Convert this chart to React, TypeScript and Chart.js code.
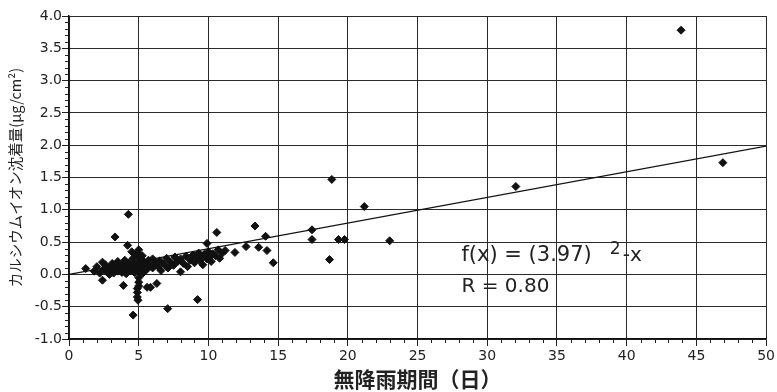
import React, { useEffect, useRef } from 'react';
import { Chart, registerables } from 'chart.js';

Chart.register(...registerables);

// ---- data ----
const pointX = [
  1.2, 1.8, 2.0, 2.2, 2.4, 2.4, 2.5, 2.6, 2.7, 2.8, 2.9, 3.0, 3.0, 3.1, 3.2, 3.3, 3.3, 3.4, 3.5, 3.5,
  3.6, 3.7, 3.8, 3.9, 3.9, 4.0, 4.0, 4.1, 4.2, 4.2, 4.26, 4.3, 4.4, 4.5, 4.5, 4.6, 4.6, 4.7, 4.7, 4.8,
  4.8, 4.9, 4.9, 4.9, 4.95, 4.9, 5.0, 5.0, 5.0, 5.0, 5.0, 5.0, 5.0, 5.1, 5.1, 5.2, 5.25, 5.3, 5.3, 5.4,
  5.5, 5.6, 5.6, 5.7, 5.8, 5.85, 6.0, 6.0, 6.2, 6.3, 6.4, 6.5, 6.6, 6.8, 7.0, 7.08, 7.1, 7.3, 7.5, 7.6,
  7.8, 8.0, 8.0, 8.2, 8.4, 8.5, 8.7, 8.9, 9.0, 9.1, 9.22, 9.3, 9.4, 9.5, 9.6, 9.7, 9.9, 9.9, 10.0, 10.1,
  10.2, 10.3, 10.5, 10.6, 10.7, 10.8, 11.0, 11.2, 11.9, 12.7, 13.34, 13.6, 14.1, 14.2, 14.65, 17.43, 17.43, 18.69, 18.85, 19.33,
  19.76, 21.18, 23.0, 32.05, 43.9, 46.9,
];
const pointY = [
  0.09, 0.05, 0.12, 0.02, 0.19, -0.09, 0.08, 0.15, 0.04, 0.10, 0.00, 0.13, 0.06, 0.17, 0.02, 0.58, 0.10, 0.14, 0.05, 0.20,
  0.08, 0.12, 0.03, -0.17, 0.16, 0.09, 0.22, 0.01, 0.45, 0.13, 0.93, 0.18, 0.06, 0.35, 0.11, -0.63, 0.25, 0.03, 0.16, 0.09,
  0.30, -0.22, -0.28, -0.35, -0.40, 0.13, 0.05, 0.20, -0.05, 0.38, 0.32, -0.12, -0.18, 0.27, 0.10, 0.15, 0.29, 0.02, 0.21, 0.12,
  0.18, -0.20, 0.08, 0.22, 0.14, -0.20, 0.10, 0.24, 0.18, -0.14, 0.12, 0.21, 0.06, 0.16, 0.25, -0.53, 0.10, 0.19, 0.14, 0.27,
  0.20, 0.04, 0.24, 0.17, 0.28, 0.12, 0.22, 0.30, 0.18, 0.25, -0.39, 0.33, 0.21, 0.28, 0.15, 0.31, 0.48, 0.24, 0.35, 0.27,
  0.20, 0.32, 0.29, 0.65, 0.38, 0.25, 0.33, 0.37, 0.34, 0.43, 0.75, 0.42, 0.59, 0.37, 0.18, 0.69, 0.54, 0.23, 1.47, 0.54,
  0.54, 1.05, 0.52, 1.36, 3.78, 1.73,
];
const trendX = [0, 50];
const trendY = [0, 1.985];

const xTitle = '無降雨期間（日）';
const yTitle = 'カルシウムイオン沈着量(μg/cm²)';
const formulaMain = 'f(x) = (3.97)';
const formulaSup = '2';
const formulaTail = '-x';
const rText = 'R = 0.80';

const FONT = '"DejaVu Sans", sans-serif';

const extrasPlugin = {
  id: 'extras',
  afterDraw(chart: any) {
    const { ctx, chartArea } = chart;
    const xs = chart.scales.x;
    const ys = chart.scales.y;
    ctx.save();
    ctx.strokeStyle = '#222';
    ctx.lineWidth = 1;
    // minor ticks on x axis
    for (let v = 0; v <= 50; v += 1) {
      if (v % 5 === 0) continue;
      const px = Math.round(xs.getPixelForValue(v)) + 0.5;
      ctx.beginPath();
      ctx.moveTo(px, chartArea.bottom);
      ctx.lineTo(px, chartArea.bottom + 4);
      ctx.stroke();
    }
    // minor ticks on y axis
    for (let i = -10; i <= 40; i += 1) {
      if (i % 5 === 0) continue;
      const py = Math.round(ys.getPixelForValue(i / 10)) + 0.5;
      ctx.beginPath();
      ctx.moveTo(chartArea.left - 4, py);
      ctx.lineTo(chartArea.left, py);
      ctx.stroke();
    }
    // formula text
    ctx.fillStyle = '#222';
    ctx.textBaseline = 'alphabetic';
    ctx.textAlign = 'left';
    const fx = xs.getPixelForValue(28.15);
    const fy = ys.getPixelForValue(0.2);
    ctx.font = `21px ${FONT}`;
    ctx.fillText(formulaMain, fx, fy);
    const w = ctx.measureText(formulaMain).width;
    ctx.font = `17px ${FONT}`;
    ctx.fillText(formulaSup, fx + w + 18, fy - 7);
    ctx.font = `20px ${FONT}`;
    ctx.fillText(formulaTail, fx + w + 31, fy);
    ctx.fillText(rText, fx, ys.getPixelForValue(-0.27));
    ctx.restore();
  },
};

export default function App() {
  const ref = useRef<HTMLCanvasElement | null>(null);
  useEffect(() => {
    if (!ref.current) return;
    const scatter = pointX.map((x, i) => ({ x, y: pointY[i] }));
    const trend = trendX.map((x, i) => ({ x, y: trendY[i] }));
    const chart = new Chart(ref.current, {
      type: 'scatter',
      data: {
        datasets: [
          {
            type: 'line',
            data: trend,
            borderColor: '#111',
            borderWidth: 1.2,
            pointRadius: 0,
            fill: false,
          } as any,
          {
            data: scatter,
            pointStyle: 'rectRot',
            pointRadius: 4,
            pointBorderWidth: 1,
            backgroundColor: '#111',
            borderColor: '#111',
          },
        ],
      },
      options: {
        animation: false,
        responsive: false,
        maintainAspectRatio: false,
        layout: { padding: { top: 16, right: 8, bottom: 0, left: 0 } },
        plugins: { legend: { display: false }, tooltip: { enabled: false } },
        scales: {
          x: {
            type: 'linear',
            min: 0,
            max: 50,
            ticks: { stepSize: 5, color: '#222', font: { family: FONT, size: 14 }, padding: 2, maxRotation: 0 },
            grid: { color: '#2a2a2a', lineWidth: 1, tickLength: 7, tickColor: '#222' },
            border: { color: '#111', width: 1.5 },
            title: {
              display: true,
              text: xTitle,
              color: '#222',
              font: { family: '"Noto Sans CJK JP", sans-serif', size: 21, weight: 'bold' },
              padding: { top: 0, bottom: 0 },
            },
            afterFit: (s: any) => { s.height = 53; },
          },
          y: {
            type: 'linear',
            min: -1,
            max: 4,
            ticks: {
              stepSize: 0.5,
              color: '#222',
              font: { family: FONT, size: 14 },
              padding: 0,
              callback: (v: any) => Number(v).toFixed(1),
            },
            grid: { color: '#2a2a2a', lineWidth: 1, tickLength: 7, tickColor: '#222' },
            border: { color: '#111', width: 1.5 },
            title: {
              display: true,
              text: yTitle,
              color: '#222',
              font: { family: '"Noto Sans CJK JP", sans-serif', size: 14.5 },
              padding: { top: 7, bottom: 0 },
            },
            afterFit: (s: any) => { s.width = 69; },
          },
        },
      },
      plugins: [extrasPlugin],
    });
    return () => chart.destroy();
  }, []);
  return (
    <div style={{ position: 'fixed', left: 0, top: 0, width: 777, height: 392, background: '#fff' }}>
      <canvas ref={ref} width={777} height={392} style={{ width: 777, height: 392 }} />
    </div>
  );
}
